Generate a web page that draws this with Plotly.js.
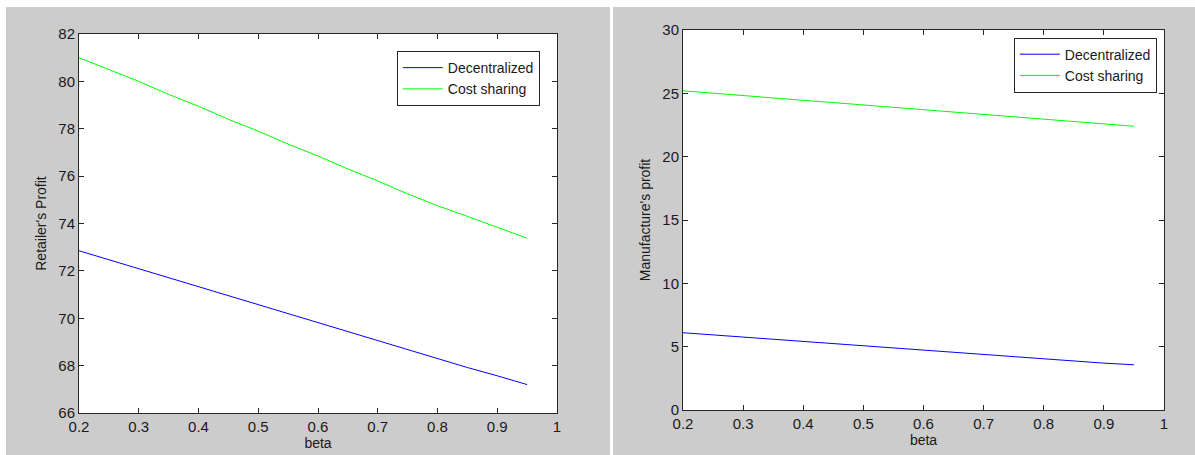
<!DOCTYPE html>
<html>
<head>
<meta charset="utf-8">
<script src="https://cdn.plot.ly/plotly-3.0.1.min.js"></script>
<style>
  html, body { margin: 0; padding: 0; background: #ffffff; width: 1195px; height: 455px; overflow: hidden; }
  #left { position: absolute; left: 6px; top: 7px; width: 604px; height: 448px; }
  #right { position: absolute; left: 613px; top: 7px; width: 582px; height: 448px; }
</style>
</head>
<body>
<div id="left"></div>
<div id="right"></div>
<script>
// Data
const beta = [0.2, 0.25, 0.3, 0.35, 0.4, 0.45, 0.5, 0.55, 0.6, 0.65, 0.7, 0.75, 0.8, 0.85, 0.9, 0.95];

const retailerDecentralized = [72.85, 72.47, 72.10, 71.72, 71.33, 70.95, 70.58, 70.20, 69.80, 69.43, 69.05, 68.65, 68.27, 67.92, 67.57, 67.20];
const retailerCostSharing   = [81.00, 80.50, 80.00, 79.45, 78.95, 78.40, 77.90, 77.35, 76.85, 76.30, 75.80, 75.25, 74.75, 74.30, 73.85, 73.38];

const manufDecentralized = [6.10, 5.93, 5.76, 5.59, 5.42, 5.25, 5.08, 4.91, 4.74, 4.57, 4.40, 4.23, 4.06, 3.85, 3.70, 3.57];
const manufCostSharing   = [25.20, 25.00, 24.83, 24.64, 24.45, 24.27, 24.08, 23.90, 23.70, 23.52, 23.33, 23.15, 22.95, 22.75, 22.57, 22.40];

const xTicks = [0.2, 0.3, 0.4, 0.5, 0.6, 0.7, 0.8, 0.9, 1];
const xTickText = ['0.2', '0.3', '0.4', '0.5', '0.6', '0.7', '0.8', '0.9', '1'];
const leftYTicks = [66, 68, 70, 72, 74, 76, 78, 80, 82];
const rightYTicks = [0, 5, 10, 15, 20, 25, 30];

const seriesNames = ['Decentralized', 'Cost sharing'];
const seriesColors = ['#0000ff', '#00ff00'];

const FONT = 'Liberation Sans, Arial, sans-serif';

function axisBase() {
  return {
    showgrid: false, zeroline: false,
    showline: true, linecolor: '#262626', linewidth: 1, mirror: 'ticks',
    ticks: 'inside', ticklen: 5, tickwidth: 1, tickcolor: '#262626',
    tickfont: {family: FONT, size: 15, color: '#1a1a1a'},
    fixedrange: true
  };
}

function makeTraces(ys) {
  return ys.map((y, i) => ({
    x: beta, y: y, type: 'scatter', mode: 'lines',
    name: seriesNames[i],
    line: {color: seriesColors[i], width: 1}
  }));
}

function makeLayout(opts) {
  const xa = Object.assign(axisBase(), {
    range: [0.2, 1], tickvals: xTicks, ticktext: xTickText,
    title: {text: 'beta', font: {family: FONT, size: 14, color: '#1a1a1a'}, standoff: 4}
  });
  const ya = Object.assign(axisBase(), {
    range: opts.yrange, tickvals: opts.yticks, ticktext: opts.yticks.map(String),
    title: {text: opts.ytitle, font: {family: FONT, size: 14, color: '#1a1a1a'}, standoff: 8}
  });
  return {
    width: opts.w, height: 448,
    margin: opts.margin,
    paper_bgcolor: '#cccccc', plot_bgcolor: '#ffffff',
    showlegend: true,
    legend: {
      x: opts.legx, y: opts.legy, xanchor: 'right', yanchor: 'top',
      bgcolor: '#ffffff', bordercolor: '#262626', borderwidth: 1,
      font: {family: FONT, size: 14, color: '#1a1a1a'},
      itemwidth: 40, tracegroupgap: 0
    },
    xaxis: xa, yaxis: ya,
    font: {family: FONT}
  };
}

Plotly.newPlot('left',
  makeTraces([retailerDecentralized, retailerCostSharing]),
  makeLayout({
    w: 604, margin: {l: 73, r: 53, t: 27, b: 42, pad: 0},
    yrange: [66, 82], yticks: leftYTicks, ytitle: "Retailer's Profit",
    legx: 0.964, legy: 0.955
  }),
  {staticPlot: true, displayModeBar: false});

Plotly.newPlot('right',
  makeTraces([manufDecentralized, manufCostSharing]),
  makeLayout({
    w: 582, margin: {l: 70, r: 31, t: 23, b: 45, pad: 0},
    yrange: [0, 30], yticks: rightYTicks, ytitle: "Manufacture's profit",
    legx: 0.985, legy: 0.98
  }),
  {staticPlot: true, displayModeBar: false});
</script>
</body>
</html>
